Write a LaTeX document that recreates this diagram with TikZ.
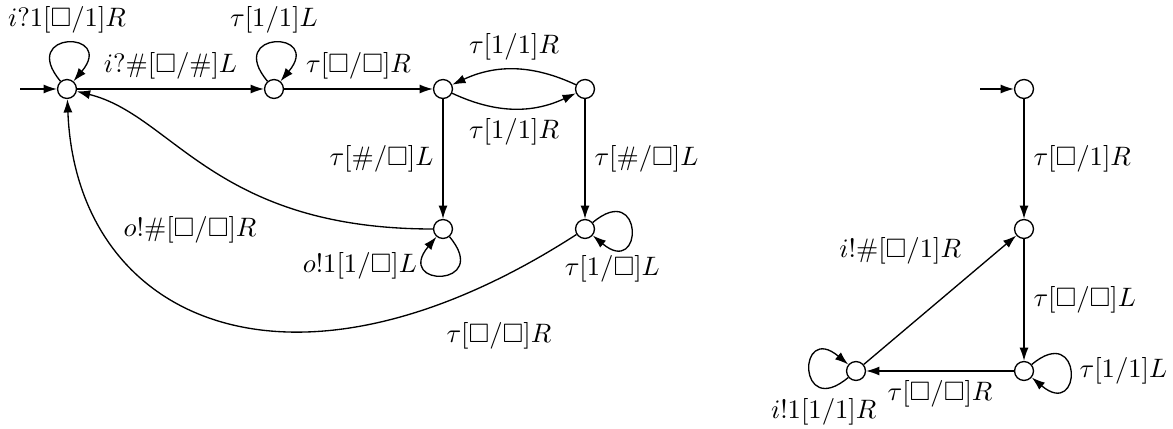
\documentclass[tikz,border=0pt]{standalone}
\usepackage{amssymb}
\usepackage{amsmath}
\usetikzlibrary{arrows.meta}

\begin{document}
\begin{tikzpicture}[x=0.375pt,y=0.375pt,line width=0.5pt,>={Latex[length=5pt,width=3.4pt]},
	st/.style={draw,circle,inner sep=0pt,minimum size=7.1pt},
	every loop/.style={min distance=25pt}]
	\useasboundingbox (0,0) rectangle (1173,428);
	\node[st] (q0) at (67,339) {};
	\node[st] (q1) at (274,339) {};
	\node[st] (q2) at (443,339) {};
	\node[st] (q3) at (585,339) {};
	\node[st] (q4) at (443,199) {};
	\node[st] (q5) at (585,199) {};
	\coordinate (s0) at (20,339);
	\draw[->] (s0) -- (q0);
	\draw[->] (q0) to[out=130,in=50,loop] node[above] {$i?1[\Box/1]R$} (q0);
	\draw[->] (q0) -- node[above] {$i?\#[\Box/\#]L$} (q1);
	\draw[->] (q1) to[out=130,in=50,loop] node[above] {$\tau[1/1]L$} (q1);
	\draw[->] (q1) -- node[above] {$\tau[\Box/\Box]R$} (q2);
	\draw[->] (q2) to[bend right=25] node[below] {$\tau[1/1]R$} (q3);
	\draw[->] (q3) to[bend right=25] node[above] {$\tau[1/1]R$} (q2);
	\draw[->] (q2) -- node[left] {$\tau[\#/\Box]L$} (q4);
	\draw[->] (q3) -- node[right] {$\tau[\#/\Box]L$} (q5);
	\draw[->] (q4) to[out=-50,in=-130,loop] node[pos=0.75,left] {$o!1[1/\Box]L$} (q4);
	\draw[->] (q5) to[out=40,in=-40,loop] node[pos=0.85,below] {$\tau[1/\Box]L$} (q5);
	\draw[->] (q4) .. controls (214,199) and (173,313) .. node[pos=0.33,below left,yshift=-3pt] {$o!\#[\Box/\Box]R$} (q0);
	\draw[->] (q5) .. controls (289,8) and (76,108) .. node[pos=0.17,below right,yshift=-3pt] {$\tau[\Box/\Box]R$} (q0);

	\node[st] (r0) at (1024,339) {};
	\node[st] (r1) at (1024,199) {};
	\node[st] (r2) at (1024,57) {};
	\node[st] (r3) at (856,57) {};
	\coordinate (s1) at (980,339);
	\draw[->] (s1) -- (r0);
	\draw[->] (r0) -- node[right] {$\tau[\Box/1]R$} (r1);
	\draw[->] (r1) -- node[right] {$\tau[\Box/\Box]L$} (r2);
	\draw[->] (r2) to[out=40,in=-40,loop] node[right] {$\tau[1/1]L$} (r2);
	\draw[->] (r2) -- node[below] {$\tau[\Box/\Box]R$} (r3);
	\draw[->] (r3) to[out=-140,in=140,loop] node[pos=0.2,below] {$i!1[1/1]R$} (r3);
	\draw[->] (r3) -- node[pos=0.7,above left] {$i!\#[\Box/1]R$} (r1);
\end{tikzpicture}
\end{document}
